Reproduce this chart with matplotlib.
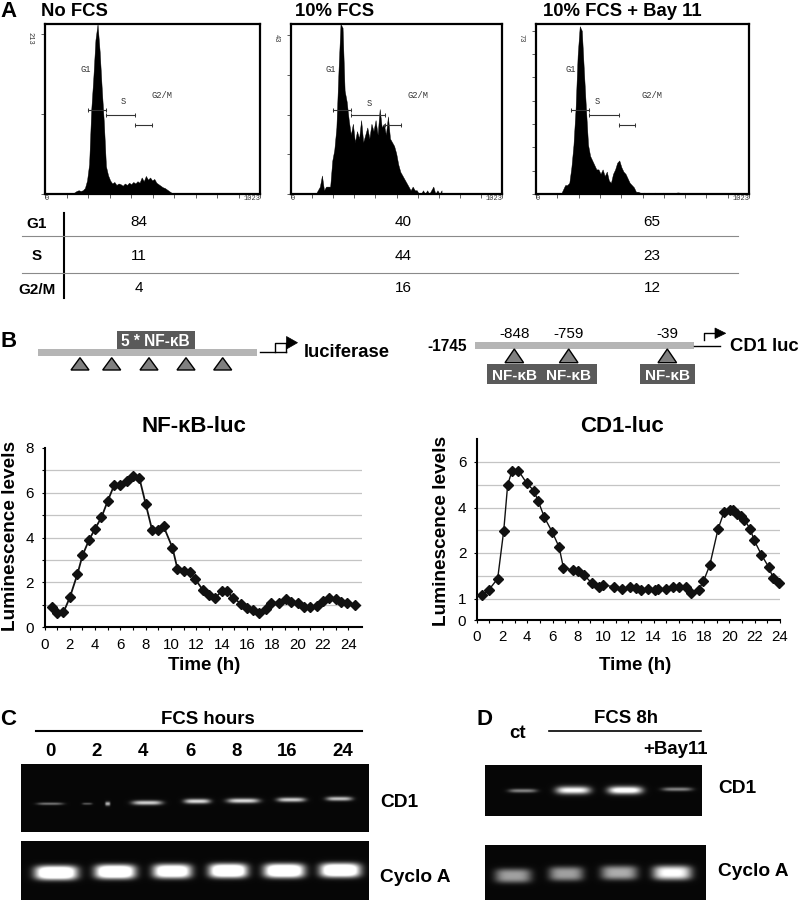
import matplotlib
matplotlib.use('Agg')
import matplotlib.pyplot as plt
import numpy as np
from matplotlib.patches import Polygon, Rectangle
from matplotlib.ticker import FixedLocator

plt.rcParams['font.family'] = ['Liberation Sans', 'DejaVu Sans']

# Panel A, counts per 10 channel bin
no_fcs = [0]*11 + [1, 1, 1, 2, 4, 5, 4, 5, 8, 18, 40, 112, 155, 205, 226, 190, 140, 95, 37, 25,
                   18, 14, 16, 12, 14, 13, 11, 14, 12, 15, 13, 16, 14, 17, 15, 22, 17, 24, 19, 22,
                   18, 20, 15, 13, 11, 9, 8, 6, 4, 2, 1]
fcs = [0]*13 + [1, 2, 5, 1, 2, 2, 2, 9, 12, 18, 33, 46, 45, 28, 25, 20, 16, 19, 14, 17, 15, 20, 14,
                16, 18, 15, 19, 17, 20, 16, 23, 18, 19, 16, 21, 15, 14, 13, 11, 8, 6, 5, 4, 3, 2, 1,
                2, 1, 1, 0, 0, 1, 0, 1, 0, 1, 2, 0, 1, 0, 1]
fcs_bay = [0]*13 + [2, 4, 4, 5, 12, 22, 38, 62, 75, 73, 55, 38, 22, 17, 15, 13, 11, 11, 9, 11, 8, 10,
                    6, 5, 9, 11, 14, 15, 12, 10, 9, 7, 5, 4, 3, 1, 1, 0.6, 0.5, 0.6, 0.4, 0.6, 0.5, 0.4,
                    0.6, 0.5, 0.3, 0.5, 0.6, 0.3, 0, 0.3, 0, 0, 0.5, 0.7, 0.6]
hist_names = ['No FCS', '10% FCS', '10% FCS + Bay 11']
hist_counts = [no_fcs, fcs, fcs_bay]
hist_ymax = [226, 46, 76]
hist_top = [213, 43, 73]
hist_steps = [2, 4, 7]
# G1, S and G2/M marker ranges in channels
g1_marks = [(203, 289), (202, 289), (168, 256)]
s_marks = [(289, 428), (289, 458), (256, 397)]
g2_marks = [(428, 510), (458, 535), (397, 475)]

row_names = ['G1', 'S', 'G2/M']
g1_pct = ['84', '40', '65']
s_pct = ['11', '44', '23']
g2_pct = ['4', '16', '12']

# Panel B
nfkb_time = [.6, 1.0, 1.5, 2.0, 2.6, 3.0, 3.5, 4.0, 4.5, 5.0, 5.5, 6.0, 6.5, 7.0, 7.5, 8.0, 8.5, 9.0,
             9.4, 10.1, 10.5, 11, 11.5, 11.9, 12.5, 13, 13.5, 14, 14.4, 14.9, 15.5, 16, 16.5, 16.9,
             17.5, 17.9, 18.5, 19.1, 19.5, 20, 20.5, 21, 21.5, 22, 22.5, 23, 23.4, 23.9, 24.5]
nfkb_lum = [.92, .65, .67, 1.33, 2.37, 3.2, 3.87, 4.4, 4.9, 5.64, 6.33, 6.33, 6.5, 6.73, 6.63, 5.47,
            4.33, 4.33, 4.5, 3.55, 2.6, 2.5, 2.46, 2.15, 1.66, 1.44, 1.32, 1.62, 1.6, 1.32, 1.05, .88,
            .76, .62, .8, 1.1, 1.1, 1.28, 1.14, 1.07, .89, .9, .93, 1.16, 1.29, 1.26, 1.11, 1.07, 1.0]
cd1_time = [.42, .98, 1.66, 2.14, 2.45, 2.8, 3.3, 3.96, 4.51, 4.85, 5.36, 5.99, 6.52, 6.86, 7.65, 8.0,
            8.5, 9.1, 9.71, 10.03, 10.87, 11.53, 12.14, 12.61, 13.03, 13.56, 14.09, 14.38, 15.01,
            15.57, 15.99, 16.57, 16.99, 17.57, 17.94, 18.44, 19.1, 19.58, 20.05, 20.32, 20.63, 20.92,
            21.19, 21.64, 21.95, 22.53, 23.11, 23.46, 23.96]
cd1_lum = [1.08, 1.2, 1.44, 2.99, 5.0, 5.62, 5.62, 5.07, 4.75, 4.31, 3.57, 2.91, 2.26, 1.68, 1.62, 1.6,
           1.52, 1.34, 1.26, 1.3, 1.26, 1.22, 1.25, 1.23, 1.18, 1.22, 1.18, 1.22, 1.22, 1.26, 1.26,
           1.26, 1.12, 1.2, 1.38, 1.73, 3.06, 3.82, 3.88, 3.88, 3.74, 3.62, 3.46, 3.06, 2.57, 1.96,
           1.69, 1.45, 1.34]
# the CD1 axis labels are not evenly spaced: label value and its height above the axis, in pixels
cd1_labels = [0, 1, 2, 4, 6, 8]
cd1_heights = [0, 21.3, 67, 112.3, 158, 203.3]

# Panels C and D, gel bands: centre x, half width, y, brightness
hours = ['0', '2', '4', '6', '8', '16', '24']
hour_x = [50, 97, 143, 190, 237, 287, 343]
c_cd1 = [(50, 13, 803.5, .45), (87, 5, 803.5, .35), (107.5, 2.5, 803.5, .7), (147, 15, 802.5, .8),
         (197, 13, 801, .85), (243, 16, 800.5, .85), (291, 14, 799.5, .8), (339, 13, 798.5, .75)]
c_cyclo = [(56, 21, 872.5, 1.4), (115, 20, 871.5, 1.4), (172, 19, 871, 1.3), (228, 19, 870.5, 1.4),
           (284, 20, 870.5, 1.4), (340, 20, 870, 1.4)]
d_cd1 = [(522.5, 14, 790.5, .5), (573, 17, 790, 1), (625, 17, 790, 1.1), (677, 15, 789, .5)]
d_cyclo = [(513, 18, 875.5, .6), (566, 17, 873.5, .6), (619, 18, 872.5, .65), (672, 19, 872.5, 1)]

fig = plt.figure(figsize=(8, 9), dpi=100, facecolor='white')


def px_axes(x0, y0, x1, y1, **kw):
    # axes placed by pixel box, y counted from the top
    return fig.add_axes([x0/800, 1-y1/900, (x1-x0)/800, (y1-y0)/900], **kw)


page = px_axes(0, 0, 800, 900, zorder=5)
page.set_xlim(0, 800)
page.set_ylim(900, 0)
page.axis('off')
page.patch.set_alpha(0)


def label(x, y, s, size=13.5, weight='bold', ha='left', **kw):
    page.text(x, y+1.5, s, fontsize=size, fontweight=weight, ha=ha, va='center', **kw)


def mono(x, y, s, size, **kw):
    page.text(x, y, s, fontsize=size, family='Liberation Mono', ha=kw.pop('ha', 'center'), va='center',
              color='#333333', **kw)


def band_gel(x0, y0, x1, y1, bands, thick, power):
    xs, ys = np.meshgrid(np.arange(x0, x1, .5), np.arange(y0, y1, .5))
    img = np.full(xs.shape, .03)
    for cx, hw, cy, level in bands:
        hh = thick*min(level, 1) if power == 2 else thick
        img += level*np.exp(-np.abs((xs-cx)/hw)**4)*np.exp(-np.abs((ys-cy)/hh)**power)
    page.imshow(np.clip(img, 0, 1), cmap='gray', vmin=0, vmax=1, extent=(x0, x1, y1, y0),
                aspect='auto', interpolation='bilinear')


# Panel A
hist_boxes = [(45, 260), (291, 502), (536, 749)]
title_x = [41, 295, 543]
for i in range(3):
    x0, x1 = hist_boxes[i]
    ax = px_axes(x0, 24, x1, 194)
    counts = np.array(hist_counts[i], dtype=float)
    ax.fill_between(np.arange(len(counts))*10, counts, color='black', lw=.3)
    ax.set_xlim(0, 1023)
    ax.set_ylim(0, hist_ymax[i])
    ax.set_xticks(np.arange(0, 1024, 102.3))
    ax.set_yticks(np.linspace(0, hist_top[i], hist_steps[i]+1))
    ax.set_xticklabels([])
    ax.set_yticklabels([])
    ax.tick_params(length=3, width=.6, color='#444444')
    for s in ax.spines.values():
        s.set_linewidth(1.6)
    scale = hist_ymax[i]/170.0
    for (a, b), py in zip([g1_marks[i], s_marks[i], g2_marks[i]], [110, 115, 125]):
        yv = (194-py)*scale
        ax.plot([a, b], [yv, yv], color='#333333', lw=.8, marker='|', ms=3, mew=.7, clip_on=False)
    label(title_x[i], 10, hist_names[i], size=13.3)
    mono(x0-15, 38, str(hist_top[i]), 5, rotation=270)
    mono(x0+2, 198, '0', 5)
    mono(x1+1, 198, '1023', 5, ha='right')

g_labels = [((86, 70), (123, 101), (162, 95)), ((331, 70), (369, 104), (418, 95)), ((570.7, 70), (597, 102), (652, 95))]
for g1, s, g2 in g_labels:
    for xy, t in zip((g1, s, g2), ('G1', 'S', 'G2/M')):
        mono(xy[0], xy[1], t, 6.3)

label(0, 10, 'A', size=16)

# table under the histograms
page.plot([64, 64], [213, 298], color='black', lw=1.5)
for y in [236, 273.3]:
    page.plot([22, 738], [y, y], color='#8a8a8a', lw=.8)
row_y = [222, 255, 288]
col_x = [139, 403, 652]
for r, vals in enumerate([g1_pct, s_pct, g2_pct]):
    label(37, row_y[r], row_names[r], size=11, ha='center')
    for c in range(3):
        label(col_x[c], row_y[r]-1, vals[c], size=11, weight='normal', ha='center')

# Panel B promoter drawings
label(0, 340, 'B', size=16)
page.add_patch(Rectangle((38, 349.3), 219, 6.7, color='#b5b5b5', lw=0))
page.add_patch(Rectangle((116.7, 331), 78, 18, color='#5a5a5a', lw=0))
label(155.7, 340, '5 * NF-κB', size=11.2, ha='center', color='white')
for cx in [80, 111.7, 149, 186, 222.7]:
    page.add_patch(Polygon([(cx-9, 370), (cx+9, 370), (cx, 357.7)], fc='#808080', ec='black', lw=1))
page.plot([260, 286], [351.7, 351.7], color='black', lw=1)
page.plot([275, 275, 287], [351.7, 342.7, 342.7], color='black', lw=1)
page.plot([286, 286], [342.7, 351.7], color='black', lw=1)
page.add_patch(Polygon([(286.5, 336.5), (297.5, 342.7), (286.5, 349)], fc='black', ec='black', lw=.5))
label(304, 351, 'luciferase', size=13.3)

page.add_patch(Rectangle((474.7, 341.7), 219.3, 7.3, color='#b5b5b5', lw=0))
page.plot([694, 720], [345.7, 345.7], color='black', lw=1)
page.plot([704.3, 704.3, 716], [340, 333.3, 333.3], color='black', lw=1)
page.add_patch(Polygon([(715, 328), (725.7, 333.3), (715, 338.5)], fc='black', ec='black', lw=.5))
label(466.7, 345, '-1745', size=11.2, ha='right')
label(730, 345, 'CD1 luc', size=13.3)
page.add_patch(Rectangle((487.3, 364.3), 109.4, 19.7, color='#5a5a5a', lw=0))
page.add_patch(Rectangle((640, 364.3), 55, 19.7, color='#5a5a5a', lw=0))
for cx, pos in zip([514.3, 568.7, 667.3], ['-848', '-759', '-39']):
    label(cx, 332.5, pos, size=11, weight='normal', ha='center')
    page.add_patch(Polygon([(cx-9.3, 362.7), (cx+9.3, 362.7), (cx, 349)], fc='#808080', ec='black', lw=1))
    label(cx, 374, 'NF-κB', size=11, ha='center', color='white')

# Panel B luminescence curves
ax1 = px_axes(44.5, 447.7, 362, 627.3)
ax1.plot(nfkb_time, nfkb_lum, color='#111111', lw=1.3, marker='D', ms=4.6, clip_on=False, zorder=3)
ax1.set_xlim(0, 25.07)
ax1.set_ylim(0, 8)
ax1.set_xticks(np.arange(0, 25))
ax1.set_yticks(np.arange(0, 9))
ax1.set_xticklabels([str(h) if h % 2 == 0 else '' for h in range(25)], fontsize=10.8)
ax1.set_yticklabels([str(v) if v % 2 == 0 else '' for v in range(9)], fontsize=11)
for y in range(1, 8):
    ax1.axhline(y, color='#c4c4c4', lw=.9, zorder=1)

ax2 = px_axes(476.7, 439.3, 780, 620)
ax2.set_yscale('function', functions=(lambda v: np.interp(v, cd1_labels, cd1_heights),
                                      lambda h: np.interp(h, cd1_heights, cd1_labels)))
ax2.plot(cd1_time, cd1_lum, color='#111111', lw=1, marker='D', ms=4.8, clip_on=False, zorder=3)
ax2.set_xlim(0, 24)
ax2.set_ylim(0, 7)
ax2.set_xticks(np.arange(0, 25))
ax2.set_xticklabels([str(h) if h % 2 == 0 else '' for h in range(25)], fontsize=10.8)
ax2.yaxis.set_major_locator(FixedLocator([0, 1, 2, 4, 6]))
ax2.set_yticklabels(['0', '1', '2', '4', '6'], fontsize=11)
ax2.yaxis.set_minor_locator(FixedLocator([]))
for y in [1, 1.5, 2, 3, 4, 5, 6]:
    ax2.plot([0, 23.9], [y, y], color='#c4c4c4', lw=.9, zorder=1)

for ax in (ax1, ax2):
    ax.spines['top'].set_visible(False)
    ax.spines['right'].set_visible(False)
    ax.spines['left'].set_linewidth(1.5)
    ax.spines['bottom'].set_linewidth(1.5)
    ax.tick_params(length=2.5, width=.8)
    ax.tick_params(axis='x', pad=5)
    ax.tick_params(axis='y', pad=5)
    ax.patch.set_alpha(0)

label(193.5, 425, 'NF-κB-luc', size=16, ha='center')
page.text(10.5, 536, 'Luminescence levels', fontsize=13.7, fontweight='bold', rotation=90, ha='center', va='center')
label(204, 664, 'Time (h)', size=13.5, ha='center')
label(622, 425, 'CD1-luc', size=16, ha='center')
page.text(441.5, 531, 'Luminescence levels', fontsize=13.7, fontweight='bold', rotation=90, ha='center', va='center')
label(635, 664, 'Time (h)', size=13.5, ha='center')

# Panels C and D
band_gel(21, 764, 369, 832, c_cd1, 2.8, 2)
band_gel(21, 841, 369, 900, c_cyclo, 7, 3)
band_gel(485, 765, 702, 816, d_cd1, 3.8, 2)
band_gel(485, 845, 706, 900, d_cyclo, 7, 3)
page.set_xlim(0, 800)
page.set_ylim(900, 0)

label(0, 718, 'C', size=16)
label(208, 718, 'FCS hours', size=13.4, ha='center')
page.plot([36, 362], [730.5, 730.5], color='black', lw=1.5)
for x, h in zip(hour_x, hours):
    label(x, 750, h, size=13.4, ha='center')
label(380, 801, 'CD1', size=13.8)
label(380, 876, 'Cyclo A', size=13.8)

label(477, 718, 'D', size=16)
label(518, 732, 'ct', size=13.4, ha='center')
label(625.7, 717, 'FCS 8h', size=13.4, ha='center')
page.plot([549, 700.7], [730.7, 730.7], color='black', lw=1.2)
label(675, 748, '+Bay11', size=13.4, ha='center')
label(718, 787, 'CD1', size=13.8)
label(718, 870, 'Cyclo A', size=13.8)

fig.savefig('out.png', dpi=100)
